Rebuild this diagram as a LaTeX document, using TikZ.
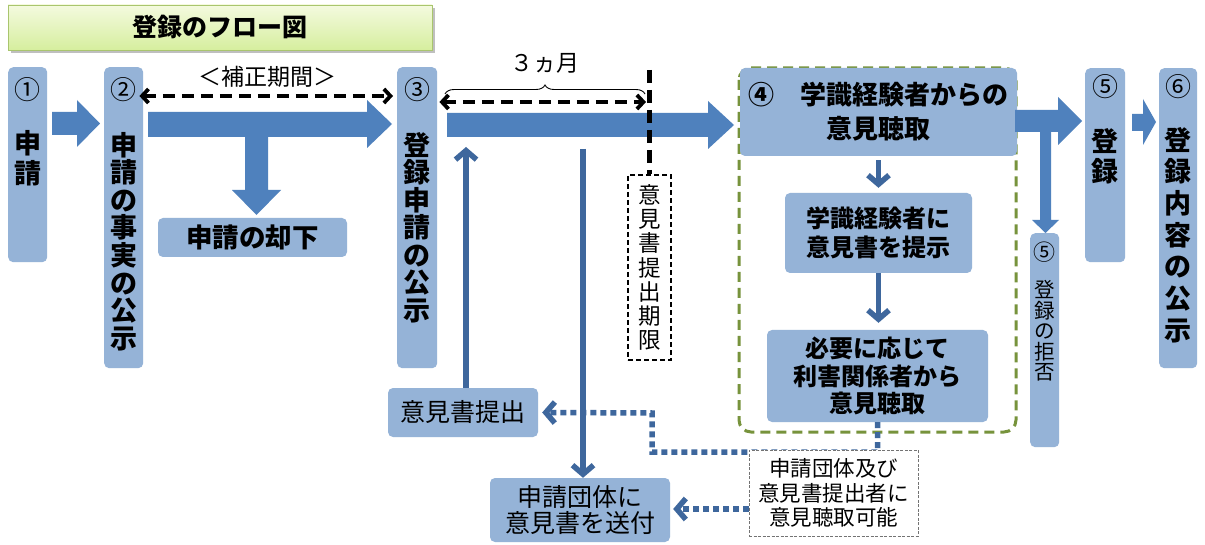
\documentclass[tikz,border=0pt]{standalone}
\usepackage{fontspec}
\newfontfamily\jp{Noto Sans CJK JP}
\usetikzlibrary{arrows.meta,decorations.pathreplacing,calc}
\definecolor{boxblue}{HTML}{95B3D7}
\definecolor{arrblue}{HTML}{4F81BD}
\definecolor{darkblue}{HTML}{3E679D}
\definecolor{framegreen}{HTML}{77933C}
\definecolor{ttop}{HTML}{F4FADF}
\definecolor{tbot}{HTML}{D6EE9E}
\definecolor{tborder}{HTML}{A9C56E}
\newcommand\myfs[2]{\fontsize{#1pt}{#2pt}\selectfont}
\tikzset{
  bbox/.style={fill=boxblue, rounded corners=5pt, inner sep=0pt, align=center},
  txt/.style={align=center, inner sep=0pt},
  blk/.style={fill=arrblue},
  darr/.style={draw=darkblue, line width=5.5pt, -{Straight Barb[length=9pt,width=21pt]}},
  dots/.style={draw=darkblue, line width=5.5pt, dash pattern=on 6pt off 4pt},
  bdash/.style={draw=black, line width=3.8pt, dash pattern=on 12pt off 7pt,
    {Straight Barb[length=6.5pt,width=14pt]}-{Straight Barb[length=6.5pt,width=14pt]}},
}
\begin{document}
\begin{tikzpicture}[x=1pt,y=-1pt]
\useasboundingbox (0,0) rectangle (1205,545);
\fill[white] (0,0) rectangle (1205,545);

% title
\fill[black!25] (11,8) rectangle (435,53);
\node[draw=tborder, line width=0.8pt, top color=ttop, bottom color=tbot,
  minimum width=424pt, minimum height=45pt, inner sep=0pt,
  font=\jp\bfseries\myfs{25}{25}] (title) at (220,27.5) {登録のフロー図};

% green dashed frame
\draw[framegreen, line width=3pt, dash pattern=on 10pt off 6pt, rounded corners=12pt]
  (739,68) rectangle (1016,432);

% vertical boxes
\node[bbox, minimum width=39pt, minimum height=195pt, anchor=north west] (b1) at (8,67) {};
\node[bbox, minimum width=39pt, minimum height=301pt, anchor=north west] (b2) at (104,67) {};
\node[bbox, minimum width=40pt, minimum height=301pt, anchor=north west] (b3) at (397,67) {};
\node[bbox, minimum width=40pt, minimum height=194pt, anchor=north west] (b5) at (1085,68) {};
\node[bbox, minimum width=38pt, minimum height=300pt, anchor=north west] (b6) at (1159,68) {};
\node[bbox, minimum width=29pt, minimum height=214pt, anchor=north west] (b5r) at (1030,233) {};

% texts in vertical boxes
\node[txt, font=\jp\myfs{26}{26}] (n1) at (27.5,90) {①};
\node[txt, font=\jp\bfseries\myfs{27}{30}] (t1) at (27.5,158) {申\\請};
\node[txt, font=\jp\myfs{26}{26}] (n2) at (123.5,90) {②};
\node[txt, font=\jp\bfseries\myfs{27}{27.6}] (t2) at (123.5,241.5) {申\\請\\の\\事\\実\\の\\公\\示};
\node[txt, font=\jp\myfs{26}{26}] (n3) at (417,90) {③};
\node[txt, font=\jp\bfseries\myfs{27}{27.5}] (t3) at (417,227.5) {登\\録\\申\\請\\の\\公\\示};
\node[txt, font=\jp\myfs{26}{26}] (n5) at (1105,87) {⑤};
\node[txt, font=\jp\bfseries\myfs{27}{30}] (t5) at (1105,156) {登\\録};
\node[txt, font=\jp\myfs{26}{26}] (n6) at (1178,87) {⑥};
\node[txt, font=\jp\bfseries\myfs{27}{31.7}] (t6) at (1178,235) {登\\録\\内\\容\\の\\公\\示};
\node[txt, font=\jp\myfs{22}{22}] (n5r) at (1044.5,252) {⑤};
\node[txt, font=\jp\myfs{20.5}{20.5}] (t5r) at (1044.5,331) {登\\録\\の\\拒\\否};

% other boxes
\node[bbox, minimum width=189pt, minimum height=39pt, font=\jp\bfseries\myfs{26.5}{26.5}] (kyak) at (252.5,237.5) {申請の却下};
\node[bbox, minimum width=277pt, minimum height=88pt, font=\jp\bfseries\myfs{26}{34}] (b4) at (878.5,112) {④\hspace{1em}学識経験者からの\\意見聴取};
\node[bbox, minimum width=187pt, minimum height=80pt, font=\jp\bfseries\myfs{24}{29}] (g1) at (878.5,233) {学識経験者に\\意見書を提示};
\node[bbox, minimum width=221pt, minimum height=92pt, font=\jp\bfseries\myfs{24}{27.5}] (g2) at (877.5,376) {必要に応じて\\利害関係者から\\意見聴取};
\node[bbox, minimum width=150pt, minimum height=49pt, font=\jp\myfs{25}{25}] (ik) at (463,412.5) {意見書提出};
\node[bbox, minimum width=180pt, minimum height=64pt, font=\jp\myfs{25}{26.5}] (so) at (580,510) {申請団体に\\意見書を送付};

% block arrows
\fill[blk] (52,112) -- (77,112) -- (77,100) -- (100,123.5) -- (77,147) -- (77,135) -- (52,135) -- cycle;
\fill[blk] (148,112) -- (367,112) -- (367,100) -- (392,124) -- (367,148) -- (367,137)
  -- (268,137) -- (268,190) -- (281,190) -- (256.5,215) -- (232,190) -- (245,190) -- (245,137)
  -- (148,137) -- cycle;
\fill[blk] (447,113) -- (708,113) -- (708,101) -- (734,125) -- (708,149) -- (708,137) -- (447,137) -- cycle;
\fill[blk] (1015,110) -- (1058,110) -- (1058,97) -- (1082,121) -- (1058,145) -- (1058,132)
  -- (1051,132) -- (1051,220) -- (1059,220) -- (1045.5,233) -- (1032,220) -- (1040,220) -- (1040,132)
  -- (1015,132) -- cycle;
\fill[blk] (1132,114) -- (1143,114) -- (1143,99) -- (1156,122) -- (1143,145) -- (1143,131) -- (1132,131) -- cycle;

% labels and dashed double arrows
\node[txt, font=\jp\myfs{23}{23}] (hosei) at (267,77) {＜補正期間＞};
\draw[bdash] (b2.east |- 0,96) ++(-4,0) coordinate (h1) -- ($(b3.west |- 0,96)+(-4,0)$) coordinate (h2);
\node[txt, font=\jp\myfs{23}{23}] (sankagetsu) at (545,63) {３ヵ月};
\coordinate (brL) at (445,94);
\coordinate (brR) at (645,94);
\draw[line width=0.9pt, decorate, decoration={brace, amplitude=9pt}] (brL) -- (brR);
\draw[bdash] ($(b3.east |- 0,102)+(2,0)$) coordinate (m1) -- (646,102) coordinate (m2);

% deadline dashed line and box
\node[draw=black, line width=1.5pt, dash pattern=on 5pt off 3pt, fill=white,
  minimum width=43pt, minimum height=185pt, inner sep=0pt, align=center,
  font=\jp\myfs{22.5}{24.2}] (kigen) at (649.5,267.5) {意\\見\\書\\提\\出\\期\\限};
\coordinate (ktop) at (649.5,70);
\draw[black, line width=4.5pt, dash pattern=on 13pt off 7pt] (ktop) -- (kigen.north);

% dark blue arrows
\coordinate (upend) at (466,147);
\draw[darr] (ik.north -| upend) -- (upend);
\coordinate (dstart) at (583,149);
\draw[darr] (dstart) -- (dstart |- so.north);
\draw[darr] ($(b4.south)+(0,4)$) -- ($(g1.north)+(0,-5)$);
\draw[darr] (g1.south -| b4.south) -- ($(g2.north -| b4.south)+(0,-7)$);

% dotted connectors
\draw[dots, -{Straight Barb[length=9pt,width=21pt]}] (g2.south) -- (g2.south |- 0,452) -- (652,452) -- (652,413) -- ($(ik.east)+(4,0)$);
\node[draw=black!55, line width=0.6pt, dash pattern=on 3pt off 1.5pt, fill=white,
  minimum width=169pt, minimum height=86pt, inner sep=0pt, align=center,
  font=\jp\myfs{21.5}{24.5}] (mo) at (833.5,493) {申請団体及び\\意見書提出者に\\意見聴取可能};
\draw[dots, -{Straight Barb[length=9pt,width=21pt]}] ($(mo.west)+(0,16)$) -- ($(so.east |- 0,509)+(3,0)$);
\end{tikzpicture}
\end{document}
